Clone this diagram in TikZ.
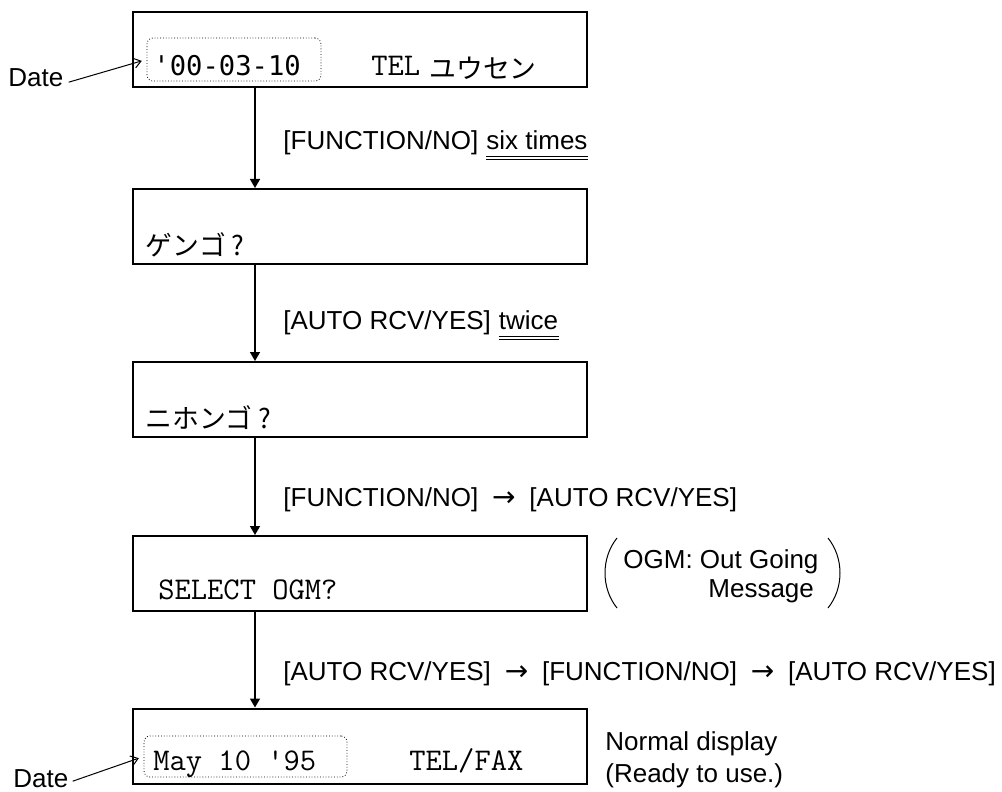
\documentclass[tikz,border=0pt]{standalone}
\usepackage{fontspec}
\setmainfont{Liberation Sans}
\setmonofont[Ligatures=TeXOff]{Latin Modern Mono}
\newfontfamily\digitfont[Ligatures=TeXOff]{DejaVu Sans Mono}
\newfontfamily\kanafont{Noto Sans CJK JP}
\newfontfamily\arrowfont{DejaVu Sans}
\usetikzlibrary{arrows.meta,calc}
\newcommand{\keyto}{\hspace{3.3pt}{\fontsize{14}{16}\arrowfont →}\hspace{3.3pt}}
\tikzset{
  display/.style={
    draw,
    line width=1pt,
    minimum width=227pt,
    minimum height=37.5pt,
    inner sep=0pt
  },
  datebox/.style={
    draw,
    densely dotted,
    line width=0.4pt,
    rounded corners=3pt,
    inner sep=0pt
  },
  lcd/.style={
    inner sep=0pt,
    font=\fontsize{15.8}{18}\ttfamily
  },
  kana/.style={
    inner sep=0pt,
    font=\fontsize{13.4}{16}\kanafont
  },
  cue/.style={
    inner sep=0pt,
    font=\fontsize{13}{16}\selectfont
  },
  flow/.style={
    line width=0.75pt,
    -{Triangle[length=4.5pt,width=5pt]}
  },
  pointer/.style={
    line width=0.5pt,
    -{Straight Barb[length=3.5pt,width=5pt]},
    shorten >=2.5pt
  },
  dbl/.style={
    double,
    double distance=1.4pt,
    line width=0.5pt
  }
}
\begin{document}
\begin{tikzpicture}[x=0.5pt,y=-0.5pt]
\useasboundingbox (0,0) rectangle (1002,792);
\coordinate (col) at (255,0);
% displays
\node[display] (disp1) at (360,49.5) {};
\node[display] (disp2) at (360,226.5) {};
\node[display] (disp3) at (360,399.5) {};
\node[display] (disp4) at (360,573.5) {};
\node[display] (disp5) at (360,746) {};
% display texts
\node[datebox, minimum width=87pt, minimum height=21.5pt] (date1) at (234,59.5) {};
\node[lcd, anchor=base west, font=\fontsize{13.6}{16}\digitfont] (txt1a) at (153,76) {'00-03-10};
\node[lcd, anchor=base west] (txt1b) at (371,76) {TEL};
\node[kana, anchor=west] (txt1c) at (429,68) {ユウセン};
\node[kana, anchor=west] (txt2) at (145,245) {ゲンゴ ?};
\node[kana, anchor=west] (txt3) at (145,418) {ニホンゴ ?};
\node[lcd, anchor=base west] (txt4) at (158,599) {SELECT OGM?};
\node[datebox, minimum width=101.5pt, minimum height=20.5pt] (date5) at (245.5,756.5) {};
\node[lcd, anchor=base west] (txt5a) at (153,770) {May 10 '95};
\node[lcd, anchor=base west] (txt5b) at (409,770) {TEL/FAX};
% date callouts
\node[cue, anchor=base west] (datelbl1) at (8,87) {Date};
\node[cue, anchor=base west] (datelbl5) at (13,787) {Date};
\draw[pointer] ($(datelbl1.east)+(5,4)$) -- (date1.west);
\draw[pointer] ($(datelbl5.east)+(4,3)$) -- (date5.west);
% flow arrows
\foreach \a/\b in {disp1/disp2,disp2/disp3,disp3/disp4,disp4/disp5}
  \draw[flow] (\a.south -| col) -- (\b.north -| col);
% key cues
\node[cue, anchor=base west] (cue1) at (283,150) {[FUNCTION/NO]};
\node[cue, anchor=base west] (cue1n) at ([xshift=3.6pt]cue1.base east) {six times};
\draw[dbl] ($(cue1n.base west)+(0,8)$) -- ($(cue1n.base east)+(0,8)$);
\node[cue, anchor=base west] (cue2) at (283,329) {[AUTO RCV/YES]};
\node[cue, anchor=base west] (cue2n) at ([xshift=3.6pt]cue2.base east) {twice};
\draw[dbl] ($(cue2n.base west)+(0,9)$) -- ($(cue2n.base east)+(0,9)$);
\node[cue, anchor=base west] (cue3) at (283,506) {[FUNCTION/NO] \keyto{} [AUTO RCV/YES]};
\node[cue, anchor=base west] (cue4) at (283,680) {[AUTO RCV/YES] \keyto{} [FUNCTION/NO] \keyto{} [AUTO RCV/YES]};
% side notes
\node[cue, anchor=base west] (ogm1) at (623,568) {OGM: Out Going};
\node[cue, anchor=base west] (ogm2) at (708,597) {Message};
\draw[line width=0.5pt] (617,538) .. controls (601,558) and (601,588) .. (617,608);
\draw[line width=0.5pt] (828,538) .. controls (844,558) and (844,588) .. (828,608);
\node[cue, anchor=base west] (ready1) at (605,750) {Normal display};
\node[cue, anchor=base west] (ready2) at (605,782) {(Ready to use.)};
\end{tikzpicture}
\end{document}
